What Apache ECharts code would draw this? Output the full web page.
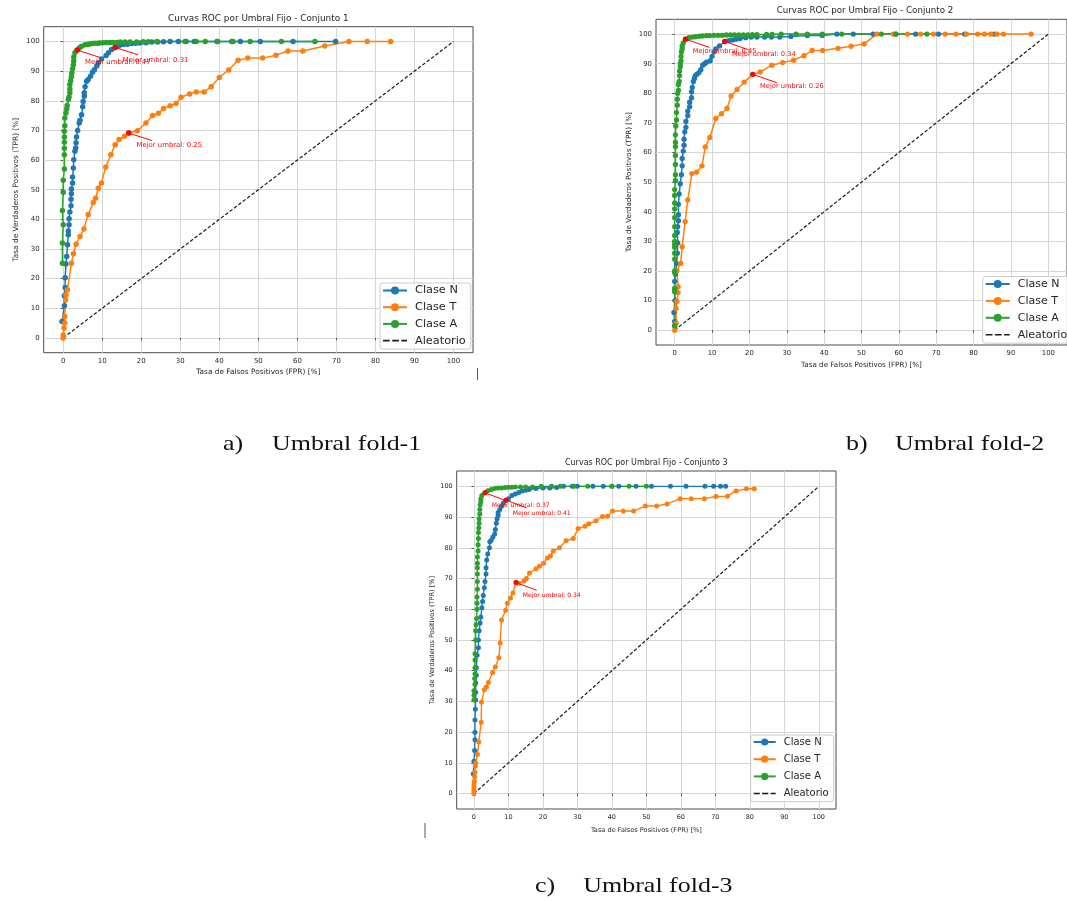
<!DOCTYPE html>
<html>
<head>
<meta charset="utf-8">
<script src="https://cdn.jsdelivr.net/npm/echarts@6/dist/echarts.min.js"></script>
<style>
  html, body { margin: 0; padding: 0; background: #ffffff; }
  #chart { width: 1067px; height: 901px; }
</style>
</head>
<body>
<div id="chart"></div>
<script>
// ---- shared labels ----
const tickValues = [0, 10, 20, 30, 40, 50, 60, 70, 80, 90, 100];
const classNames = ['Clase N', 'Clase T', 'Clase A'];
const randomLabel = 'Aleatorio';
const randomDiagonal = [[0, 0], [100, 100]];
const chartTitles = [
  'Curvas ROC por Umbral Fijo - Conjunto 1',
  'Curvas ROC por Umbral Fijo - Conjunto 2',
  'Curvas ROC por Umbral Fijo - Conjunto 3'
];
const captionLetters = ['a)', 'b)', 'c)'];
const captionTexts = ['Umbral fold-1', 'Umbral fold-2', 'Umbral fold-3'];
const xAxisName = 'Tasa de Falsos Positivos (FPR) [%]';
const yAxisName = 'Tasa de Verdaderos Positivos (TPR) [%]';
const bestPrefix = 'Mejor umbral: ';

// ---- fold 1: [FPR %, TPR %] ----
const fold1N = [[-0.3,5.5],[0.3,10.8],[0.3,14.2],[0.5,17],[0.5,20.3],[0.7,24.9],[0.9,27.5],[1.1,31.4],[1.3,34.8],[1.3,36.1],[1.5,38.2],[1.5,40.2],[1.7,42.5],[2,44.6],[2,46.8],[2.1,48.6],[2.1,50.2],[2.4,52.3],[2.4,54.3],[2.6,57.3],[2.7,60.1],[3,63],[3.2,64.1],[3.3,65.8],[3.4,67.8],[3.7,70],[4.1,72.5],[4.3,73.4],[4.7,75.3],[5,78],[5.1,79.8],[5.4,81.5],[5.4,82.7],[5.6,84.7],[6,86.6],[6.4,87.2],[7,88.3],[7.5,89.6],[8,90.5],[8.6,91.7],[9,92.8],[9.8,94.1],[11,95.3],[11.6,96.2],[12.4,97.3],[13.3,98],[14.3,98.6],[15.4,99],[16.5,99.1],[17.6,99.3],[18.6,99.4],[19.7,99.5],[21.2,99.6],[22.7,99.8],[24.2,99.8],[25.7,99.9],[27.4,100],[29.5,100],[31.5,100],[33.6,100],[39.4,100],[43.2,100],[45.4,100],[50.5,100],[58.9,100],[69.8,100]];
const fold1T = [[0,0],[0,1],[0.2,3.3],[0.4,5],[0.4,7.2],[0.6,12.8],[0.7,14.5],[1.1,16.2],[2.1,25.2],[2.6,28.4],[3.3,31.6],[4.3,34.2],[5.3,36.7],[6.4,41.6],[7.7,45.7],[8.3,47.1],[9,50.5],[9.8,52.3],[10.9,57.7],[12.2,61.8],[13.3,65.2],[14.3,66.9],[15.7,68],[16.8,69.1],[19,69.9],[21.2,72.5],[22.9,75],[24.4,75.8],[25.7,77.4],[27.4,78.3],[28.9,79.1],[30.2,81.2],[32.4,82.3],[34.1,83],[36.1,83],[37.9,84.7],[40,87.9],[42.4,90.4],[44.8,93.7],[47.3,94.4],[51.1,94.4],[54.5,95.4],[57.6,96.8],[61.4,96.8],[67,98.5],[73.2,100],[77.9,100],[83.9,100]];
const fold1A = [[-0.2,25.2],[-0.2,32],[0,38.2],[-0.2,43],[0,49.1],[0,53.2],[0.3,57],[0.3,61.8],[0.3,64],[0.3,66],[0.3,67.8],[0.3,69.7],[0.4,71.6],[0.4,74.2],[0.7,75.9],[0.9,77.3],[1,78.4],[1.3,80.4],[1.5,81.3],[1.7,82.7],[1.7,84],[1.7,85.5],[1.9,86.8],[2.1,88.1],[2.2,89.4],[2.4,90.8],[2.6,92.2],[2.7,93.4],[2.7,94.8],[3,96.2],[3.6,97.1],[4.2,97.9],[4.7,98.4],[5.6,98.9],[6.2,99],[6.8,99.2],[7.5,99.3],[8.1,99.4],[8.8,99.4],[9.4,99.5],[10.2,99.6],[11.1,99.7],[12,99.7],[12.8,99.7],[13.7,99.7],[14.6,99.8],[15.8,99.8],[17.1,99.8],[18.8,99.8],[20.5,99.9],[21.8,99.9],[24,100],[31.2,100],[34.1,100],[36.4,100],[39.6,100],[43.5,100],[47.9,100],[55.9,100],[64.5,100]];
// best operating points: [FPR %, TPR %, threshold] in order N, T, A
const fold1Best = [[13.3, 98, 0.31], [16.8, 69.1, 0.25], [3.6, 97.1, 0.47]];

// ---- fold 2 ----
const fold2N = [[0,1.5],[0,3],[-0.2,6],[0.1,10],[0,14],[0,16.5],[0.2,19],[0.5,22.5],[0.7,26],[0.8,29.5],[0.7,33],[0.8,35],[1,37],[1,39],[1,42.5],[1.2,46],[1.5,49.5],[1.8,52.5],[2,55.5],[2,58],[2.3,60.5],[2.5,62.5],[2.5,64.5],[2.7,67],[3,68.5],[3,70.5],[3.5,72.5],[3.5,74],[4,75.5],[4,77],[4.5,78.5],[4.5,80.5],[4.7,82],[5,84],[5.3,85],[5.5,86],[6,86.5],[6.5,87],[7,88],[7.5,89.5],[8,90],[8.5,90.5],[9.5,91],[10,92.5],[10.5,94],[11,95],[12,96],[13.4,97.5],[14.5,97.8],[15.5,98],[16.5,98.3],[17.5,98.5],[19,98.8],[20.5,99],[22,99],[24.1,99],[25.9,99],[28.1,99],[31.1,99.2],[35.5,99.5],[39.5,99.5],[43.4,100],[47.8,100],[53.1,100],[59.2,100],[64.5,100],[70.6,100],[77.6,100],[85.5,100]];
const fold2T = [[0,0],[0.4,2.4],[0.4,7.4],[0.6,9.7],[0.9,12.7],[0.9,14.7],[0.6,20.1],[1.6,22.6],[2,28.2],[2.8,36.7],[3.5,44],[4.6,52.9],[5.9,53.4],[7.3,55.5],[8.2,61.9],[9.4,65.1],[11,71.5],[12.5,73.1],[14,74.9],[15.1,79.1],[16.7,81.3],[18.6,83.8],[20.9,86.4],[22.9,87.2],[26,89.5],[28.9,90.4],[31.8,91.2],[34.6,92.7],[36.8,94.5],[39.6,94.5],[43.7,95.2],[47.2,95.9],[50.7,96.7],[54.1,100],[58.5,100],[62.3,100],[65.8,100],[69.3,100],[72.4,100],[75.3,100],[78.1,100],[81.1,100],[82.9,100],[84.6,100],[86.2,100],[88,100],[95.4,100]];
const fold2A = [[0,1.5],[0,13],[0,14],[0,19.5],[0,20],[0,24],[0,26],[0,28],[0,29],[0,30],[0,32],[0,35],[0,38],[0,41],[0,43],[0,45.5],[0,47.5],[0.2,50.5],[0.2,52.5],[0.2,56],[0.2,59],[0.2,62],[0.2,63.5],[0.2,66],[0.3,69],[0.5,71],[0.5,73.5],[0.7,76],[0.7,78],[0.8,80],[1,81],[1,83],[1.2,84],[1.3,86],[1.3,87.5],[1.5,89],[1.5,90],[1.7,91],[1.7,92.5],[1.8,94],[2,95],[2,96],[2.3,97],[2.9,98.3],[3.8,98.8],[4.7,99],[5.6,99.1],[6.6,99.3],[7.5,99.4],[8.5,99.5],[9.4,99.5],[10.5,99.6],[11.6,99.6],[12.7,99.6],[13.8,99.7],[14.9,99.7],[16,99.7],[17.2,99.7],[18.4,99.7],[19.6,99.7],[20.8,99.8],[22,99.8],[24.6,99.9],[26.1,99.9],[28.5,100],[32.5,100],[35.5,100],[39.5,100],[44.7,100],[55.3,100],[59.2,100],[67.5,100]];
const fold2Best = [[13.4, 97.5, 0.34], [20.9, 86.4, 0.26], [2.9, 98.3, 0.45]];

// ---- fold 3 ----
const fold3N = [[-0.2,6.5],[0,10.5],[0.2,14],[0.3,17.5],[0.3,20],[0.3,24],[0.4,27.5],[0.5,30.5],[0.5,33],[0.5,36],[0.7,38.5],[0.7,41],[0.9,45],[1.3,47.5],[1.3,50],[1.5,53],[1.8,55.5],[2,57.5],[2.3,60.5],[2.5,62.5],[2.7,64.5],[3,67],[3.2,69],[3.5,71.5],[3.5,73.5],[3.7,76],[4,78],[4.5,80],[4.6,82],[5,82.5],[5.5,83.5],[6,84.5],[6.2,86],[6.5,88],[6.7,89.5],[7,90.5],[7,91.5],[7.5,92.5],[8,93.5],[8.5,94.5],[9.3,95.5],[10,96],[11,97],[12,97.5],[13,98],[14,98.5],[15,98.7],[16,99],[18,99.3],[20,99.5],[22,99.5],[24,99.6],[26,100],[28.5,100],[30,100],[34.5,100],[37.5,100],[40,100],[42,100],[47,100],[51.5,100],[57,100],[61.5,100],[67,100],[69.5,100],[71.5,100],[73,100]];
const fold3T = [[0,0],[0,1],[0,2],[0,3],[0.1,4],[0.2,5.5],[0.3,7],[0.4,9],[0.5,10],[1,12.7],[1.4,16.8],[2.1,23.2],[2.2,29.8],[3,33.8],[3.6,34.7],[4.2,36.2],[5.4,39.4],[6.2,41.2],[7.2,44.2],[7.6,49],[8,56.5],[9.2,59.7],[9.7,62],[10.6,63.7],[11.3,65.3],[12.2,68.7],[13,68.5],[14.5,69.2],[15.2,70],[16.1,71.8],[18,73.2],[19,74],[20.2,75],[21.3,76.7],[22.2,77.3],[23,79],[24.8,80],[26.7,82.3],[28.8,83],[30.2,86.3],[32.2,87],[33.3,87.8],[35.4,88.8],[37.3,90.2],[38.7,90.3],[40.2,92],[43.3,92],[46.3,92],[49.7,93.6],[53,93.6],[56,94.3],[59.8,96],[63,96],[66.8,96],[70.2,96.7],[73.5,96.8],[76,98.5],[79,99.2],[81.3,99.2]];
const fold3A = [[0,30.5],[0,32],[0,33.5],[0.3,35.5],[0.2,37.5],[0.3,39],[0.3,41],[0.3,43.5],[0.3,45.5],[0.5,50],[0.5,53],[0.6,55],[0.8,57],[0.9,60],[0.9,62],[0.9,64],[1,66.5],[1,69],[1,71.5],[1,73.5],[1,75],[1,77],[1.2,79],[1.2,81],[1.3,83],[1.3,85],[1.4,86.5],[1.5,88],[1.5,89.5],[1.7,91],[1.7,92.5],[1.8,94],[2,95],[2,96],[2.3,97],[3.2,97.9],[4,98.6],[5,99],[6,99.3],[7,99.5],[8,99.5],[9,99.6],[10,99.7],[11,99.7],[12,99.8],[13.5,99.8],[15,99.8],[17,99.8],[19.5,100],[22.5,100],[25,100],[29,100],[33,100],[40,100],[45,100],[50,100]];
const fold3Best = [[9.3, 95.5, 0.41], [12.2, 68.7, 0.34], [3.2, 97.9, 0.37]];

const foldCurves = [[fold1N, fold1T, fold1A], [fold2N, fold2T, fold2A], [fold3N, fold3T, fold3A]];
const foldBest = [fold1Best, fold2Best, fold3Best];

// ---- styling / layout of the three panels ----
const classColors = ['#1f77b4', '#ff7f0e', '#2ca02c'];
const FONT = "'DejaVu Sans', sans-serif";
// legend glyph for the dashed reference line: three short dashes
const dashedIcon = 'path://M0,0h6.7v1.6h-6.7z M9.2,0h6.7v1.6h-6.7z M18.4,0h5.6v1.6h-5.6z';
const panels = [
  { grid: { left: 43.7, top: 26.7, width: 429.3, height: 326 }, titleXY: [258.3, 18.7], titleSize: 8.9,
    tick: 7, nameSize: 7.4, xGap: 16, yGap: 24, sym: 5.5, lw: 1.5,
    ann: { size: 6.9, tx: 7.7, ty: 12.4, lx: 23, ly: 7.4 },
    legend: { left: 380, top: 283, size: 11.3, gap: 5.7, w: 24, h: 10 },
    caption: { a: [223, 444], b: [272, 444] }, cursor: [477.5, 368, 380] },
  { grid: { left: 656, top: 19.3, width: 418, height: 325.7 }, titleXY: [865, 11], titleSize: 8.7,
    tick: 6.9, nameSize: 7.2, xGap: 16.5, yGap: 23, sym: 5.3, lw: 1.5,
    ann: { size: 6.7, tx: 7.3, ty: 12.3, lx: 24, ly: 8.3 },
    legend: { left: 982.7, top: 276.5, size: 11, gap: 5.9, w: 24, h: 10 },
    caption: { a: [846, 444], b: [895, 444] }, cursor: null },
  { grid: { left: 456.7, top: 471, width: 379.3, height: 338 }, titleXY: [646.3, 463.3], titleSize: 8,
    tick: 6.5, nameSize: 6.6, xGap: 17.5, yGap: 20.5, sym: 5, lw: 1.4,
    ann: { size: 6.1, tx: 6.7, ty: 13, lx: 20.7, ly: 7.7 },
    legend: { left: 750.7, top: 735, size: 10, gap: 7.2, w: 22, h: 9 },
    caption: { a: [535, 886.5], b: [583.3, 886.5] }, cursor: [425, 823, 838] }
];

const option = {
  backgroundColor: '#ffffff',
  animation: false,
  grid: [], xAxis: [], yAxis: [], series: [], legend: [], graphic: []
};

panels.forEach(function (p, i) {
  option.grid.push(Object.assign({
    show: true, borderColor: '#4d4d4d', borderWidth: 1, backgroundColor: 'transparent', containLabel: false
  }, p.grid));

  const axisCommon = {
    gridIndex: i, type: 'value', min: -5, max: 105,
    axisLine: { show: false },
    axisTick: { show: true, length: 2.5, inside: false, customValues: tickValues, lineStyle: { color: '#333', width: 0.8 } },
    axisLabel: { customValues: tickValues, fontSize: p.tick, color: '#262626', fontFamily: FONT },
    splitLine: { show: true, lineStyle: { color: '#d6d6d6', width: 1 } },
    nameLocation: 'middle',
    nameTextStyle: { fontSize: p.nameSize, color: '#262626', fontFamily: FONT }
  };
  option.xAxis.push(Object.assign({}, axisCommon, {
    axisLabel: Object.assign({}, axisCommon.axisLabel, { margin: 5 }),
    name: xAxisName, nameGap: p.xGap
  }));
  option.yAxis.push(Object.assign({}, axisCommon, {
    axisLabel: Object.assign({}, axisCommon.axisLabel, { margin: 4 }),
    name: yAxisName, nameGap: p.yGap
  }));

  foldCurves[i].forEach(function (curve, k) {
    option.series.push({
      type: 'line', name: classNames[k], xAxisIndex: i, yAxisIndex: i,
      data: curve, symbol: 'circle', symbolSize: p.sym, showSymbol: true,
      lineStyle: { color: classColors[k], width: p.lw },
      itemStyle: { color: classColors[k] },
      emphasis: { disabled: true }, silent: true, z: 3
    });
  });

  option.series.push({
    type: 'line', name: randomLabel, xAxisIndex: i, yAxisIndex: i,
    data: randomDiagonal, symbol: 'none',
    lineStyle: { color: '#1a1a1a', width: 1.2, type: [3.5, 2] },
    itemStyle: { color: '#1a1a1a' },
    emphasis: { disabled: true }, silent: true, z: 3
  });

  // best-threshold markers with a short leader line and label
  const a = p.ann, r = p.sym / 2;
  option.series.push({
    type: 'custom', xAxisIndex: i, yAxisIndex: i, data: foldBest[i], z: 10, silent: true,
    renderItem: function (params, api) {
      const pt = api.coord([api.value(0), api.value(1)]);
      const thr = api.value(2);
      return {
        type: 'group',
        children: [
          { type: 'line', shape: { x1: pt[0], y1: pt[1], x2: pt[0] + a.lx, y2: pt[1] + a.ly },
            style: { stroke: '#ff0000', lineWidth: 1 } },
          { type: 'circle', shape: { cx: pt[0], cy: pt[1], r: r }, style: { fill: '#ff0000' } },
          { type: 'text', x: pt[0] + a.tx, y: pt[1] + a.ty,
            style: { text: bestPrefix + thr.toFixed(2), fill: '#ff0000', fontSize: a.size, fontFamily: FONT,
                     align: 'left', verticalAlign: 'middle' } }
        ]
      };
    }
  });

  const L = p.legend;
  option.legend.push({
    data: classNames.concat([{ name: randomLabel, icon: dashedIcon }]),
    orient: 'vertical', left: L.left, top: L.top,
    itemWidth: L.w, itemHeight: L.h, itemGap: L.gap,
    padding: [2, 5, 3, 2],
    backgroundColor: 'rgba(255,255,255,0.85)', borderColor: '#cccccc', borderWidth: 1, borderRadius: 3,
    selectedMode: false,
    textStyle: { fontSize: L.size, color: '#262626', fontFamily: FONT, padding: [0, 0, 0, 3] }
  });

  option.graphic.push({
    type: 'text', x: p.titleXY[0], y: p.titleXY[1], silent: true,
    style: { text: chartTitles[i], fontSize: p.titleSize, fontFamily: FONT, fill: '#262626',
             align: 'center', verticalAlign: 'middle' }
  });
  option.graphic.push({
    type: 'text', x: p.caption.a[0], y: p.caption.a[1], scaleX: 1.18, silent: true,
    style: { text: captionLetters[i], fontSize: 22, fontFamily: "'Liberation Serif', serif", fill: '#111',
             align: 'left', verticalAlign: 'middle' }
  });
  option.graphic.push({
    type: 'text', x: p.caption.b[0], y: p.caption.b[1], scaleX: 1.18, silent: true,
    style: { text: captionTexts[i], fontSize: 22, fontFamily: "'Liberation Serif', serif", fill: '#111',
             align: 'left', verticalAlign: 'middle' }
  });
  if (p.cursor) {
    option.graphic.push({
      type: 'line', silent: true,
      shape: { x1: p.cursor[0], y1: p.cursor[1], x2: p.cursor[0], y2: p.cursor[2] },
      style: { stroke: '#555', lineWidth: 1 }
    });
  }
});

const chart = echarts.init(document.getElementById('chart'), null, { renderer: 'canvas', width: 1067, height: 901 });
chart.setOption(option);
</script>
</body>
</html>
